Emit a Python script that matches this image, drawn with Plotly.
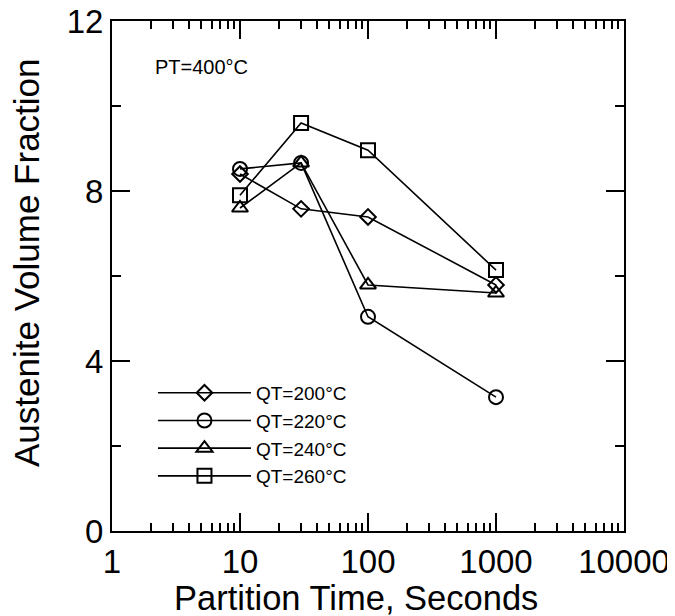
import plotly.graph_objects as go

# Data
partition_time = [10, 30, 100, 1000]
qt_labels = ["QT=200°C", "QT=220°C", "QT=240°C", "QT=260°C"]
qt200 = [8.40, 7.58, 7.39, 5.79]
qt220 = [8.52, 8.66, 5.04, 3.15]
qt240 = [7.60, 8.66, 5.79, 5.60]
qt260 = [7.90, 9.60, 8.96, 6.14]
x_tick_vals = [1, 10, 100, 1000, 10000]
x_tick_text = ["1", "10", "100", "1000", "10000"]
y_tick_vals = [0, 4, 8, 12]
x_title = "Partition Time, Seconds"
y_title = "Austenite Volume Fraction"
note = "PT=400°C"

series = [qt200, qt220, qt240, qt260]
symbols = ["diamond-open", "circle-open", "triangle-up-open", "square-open"]
sizes = [12, 14, 14, 14]

FONT = "Liberation Sans, Arial, sans-serif"

fig = go.Figure()
for name, ys, sym, sz in zip(qt_labels, series, symbols, sizes):
    fig.add_trace(go.Scatter(
        x=partition_time, y=ys, name=name, mode="lines+markers",
        line=dict(color="black", width=1.6),
        marker=dict(symbol=sym, size=sz, color="black",
                    line=dict(color="black", width=2)),
    ))

axis_common = dict(
    showline=True, linecolor="black", linewidth=2, mirror="allticks",
    ticks="inside", tickcolor="black", tickwidth=2,
    showgrid=False, zeroline=False, automargin=False,
    ticklabeloverflow="allow",
    tickfont=dict(family=FONT, size=33, color="black"),
)

fig.update_xaxes(
    type="log", range=[0, 4],
    tickvals=x_tick_vals, ticktext=x_tick_text, ticklen=18,
    ticklabelstandoff=0,
    minor=dict(ticks="inside", ticklen=8, tickwidth=2, tickcolor="black",
               dtick="D1", showgrid=False),
    **axis_common,
)
fig.update_yaxes(
    range=[0, 12], tickvals=y_tick_vals, ticklen=18,
    minor=dict(ticks="inside", ticklen=9, tickwidth=2, tickcolor="black",
               dtick=2, showgrid=False),
    **axis_common,
)

fig.add_annotation(
    text=x_title, xref="paper", yref="paper", x=0.4756, y=-0.131,
    xanchor="center", yanchor="middle", showarrow=False,
    font=dict(family=FONT, size=34.5, color="black"),
)
fig.add_annotation(
    text=y_title, xref="paper", yref="paper", x=-0.166, y=0.5255,
    xanchor="center", yanchor="middle", showarrow=False, textangle=-90,
    font=dict(family=FONT, size=35, color="black"),
)
fig.add_annotation(
    text=note, xref="paper", yref="paper", x=0.08, y=0.91,
    xanchor="left", yanchor="middle", showarrow=False,
    font=dict(family=FONT, size=20, color="black"),
)

fig.update_layout(
    width=667, height=608,
    margin=dict(l=104, r=51, t=13, b=85),
    paper_bgcolor="white", plot_bgcolor="white",
    showlegend=True,
    legend=dict(x=0.08, y=0.308, xanchor="left", yanchor="top",
                bgcolor="rgba(0,0,0,0)", borderwidth=0,
                font=dict(family=FONT, size=19, color="black"),
                itemwidth=93, tracegroupgap=0),
)

fig.write_html("out.html")
